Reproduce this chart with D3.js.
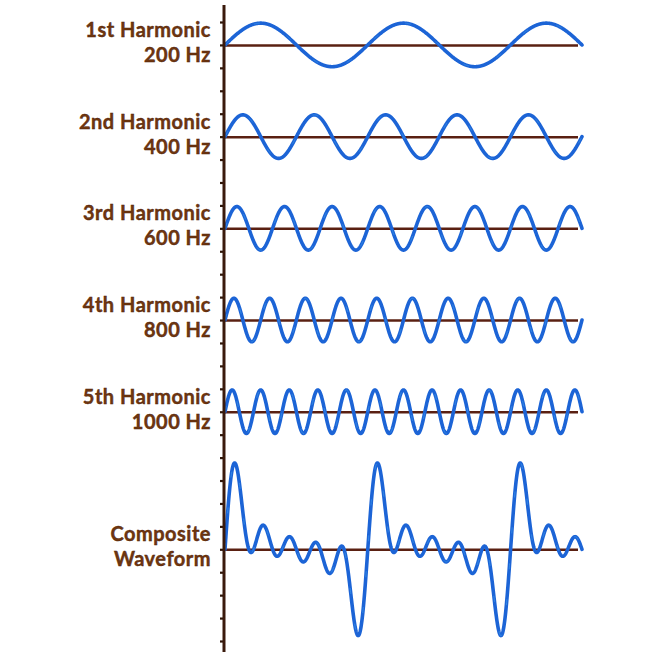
<!DOCTYPE html>
<html>
<head>
<meta charset="utf-8">
<script src="https://cdn.jsdelivr.net/npm/d3@7"></script>
<style>
  body { margin: 0; background: #fff; }
  text { font-family: Lato, "DejaVu Sans", sans-serif; font-weight: bold; }
</style>
</head>
<body>
<svg id="chart"></svg>
<script>
////////////////////////////
//  data
////////////////////////////
var harmonics   = [1, 2, 3, 4, 5];
var ordinals    = ['1st', '2nd', '3rd', '4th', '5th'];
var frequencies = [200, 400, 600, 800, 1000];
var amplitudes  = [1, 1, 1, 1, 1];
var cyclesShown = 2.5;   // cycles of the fundamental across the plot
var compositeLabel = ['Composite', 'Waveform'];

////////////////////////////
//  layout
////////////////////////////
var width = 661, height = 661;
var rowUnits = [1, 5, 9, 13, 17, 23];   // baseline of each row, in tick units

var svg = d3.select('#chart')
    .attr('width', width)
    .attr('height', height);

var x = d3.scaleLinear()
          .domain([0, cyclesShown])
          .range([225, 582]);

var y = d3.scaleLinear()
          .domain([0, 27])
          .range([22, 641]);

var t = d3.range(0, cyclesShown + 0.0005, 0.002);

var rows = harmonics.map(function(h, i){
  return {
    label: [ordinals[i] + ' Harmonic', frequencies[i] + ' Hz'],
    base: rowUnits[i],
    values: t.map(function(c){ return amplitudes[i] * Math.sin(2 * Math.PI * h * c); })
  };
});
rows.push({
  label: compositeLabel,
  base: rowUnits[5],
  values: t.map(function(c){
    return d3.sum(harmonics, function(h, i){ return amplitudes[i] * Math.sin(2 * Math.PI * h * c); });
  })
});

//// axis + ticks
svg.append('g')
    .attr('transform', 'translate(224,0)')
    .call(d3.axisLeft(y).tickValues(d3.range(0, 28)).tickSize(4).tickFormat(''))
    .call(function(g){
      g.select('.domain').remove();
      g.selectAll('line').attr('stroke', '#2e1508').attr('stroke-width', 2.2);
    });

//// rows
var g = svg.selectAll('.row')
    .data(rows)
    .enter()
    .append('g')
      .classed('row', true);

g.append('line')
    .attr('x1', 225)
    .attr('x2', 578)
    .attr('y1', d => y(d.base) + 0.5)
    .attr('y2', d => y(d.base) + 0.5)
    .attr('stroke', '#5a2012')
    .attr('stroke-width', 2.5);

var line = function(d){
  return d3.line()
           .x(function(v, i){ return x(t[i]); })
           .y(function(v){ return y(d.base - v * 0.95); })(d.values);
};

g.append('path')
    .attr('d', line)
    .attr('fill', 'none')
    .attr('stroke', '#1c64d6')
    .attr('stroke-width', 3.6)
    .attr('stroke-linejoin', 'round')
    .attr('stroke-linecap', 'round');

g.append('path')
    .attr('d', line)
    .attr('fill', 'none')
    .attr('stroke', '#3f9ff0')
    .attr('stroke-width', 1)
    .attr('stroke-dasharray', '6 30')
    .attr('opacity', 0.6);

g.selectAll('text')
    .data(d => d.label.map(function(s, i){ return { s: s, i: i, base: d.base }; }))
    .enter()
    .append('text')
      .attr('x', 211)
      .attr('y', d => y(d.base) + (d.i === 0 ? -8 : 17))
      .attr('text-anchor', 'end')
      .attr('font-size', 20)
      .attr('letter-spacing', 0.5)
      .attr('fill', '#70360f')
      .attr('stroke', '#4a1e08')
      .attr('stroke-width', 0.4)
      .text(d => d.s);

//// vertical axis line
svg.append('line')
    .attr('x1', 224)
    .attr('x2', 224)
    .attr('y1', 5)
    .attr('y2', 652)
    .attr('stroke', '#3a1a0c')
    .attr('stroke-width', 3);
</script>
</body>
</html>
